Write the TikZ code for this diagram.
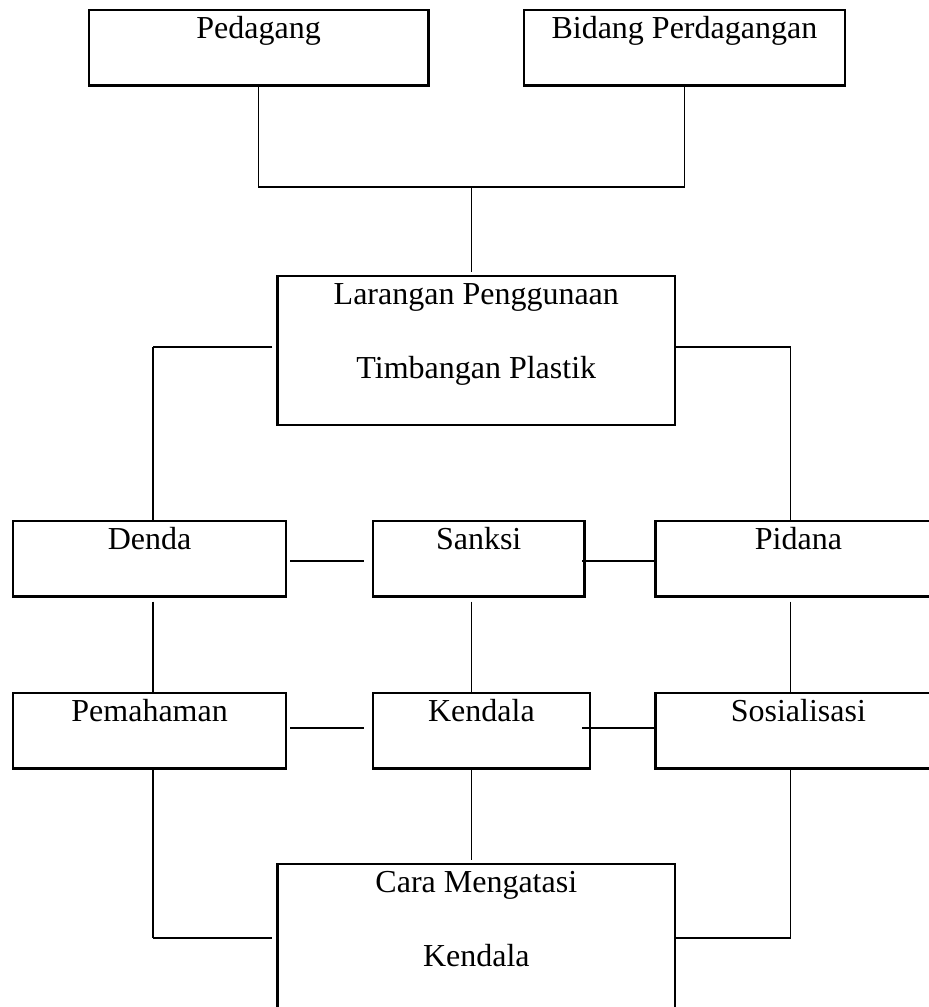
\documentclass[tikz,border=0pt]{standalone}
\usepackage{fontspec}
\setmainfont{Liberation Serif}

\begin{document}
\begin{tikzpicture}[x=0.375pt, y=-0.375pt,
	box/.style={draw, line width=0.9pt, rectangle, anchor=north west, inner sep=0pt, minimum height=28.2pt},
	boxtext/.style={anchor=base, inner sep=0pt, yshift=-10.9pt, font=\fontsize{12pt}{14pt}\selectfont},
	boxtextb/.style={boxtext, yshift=-27.75pt},
	link/.style={line width=0.6pt},
	hlink/.style={line width=0.8pt}]
	\useasboundingbox (0,0) rectangle (928,1007);

	\node[box, minimum width=127.35pt, label={[boxtext]north:Pedagang}] (pedagang) at (87.6,9) {};
	\node[box, minimum width=120.5pt, label={[boxtext]north:Bidang Perdagangan}] (bidang) at (522.5,9) {};
	\node[box, minimum width=149.1pt, minimum height=55.9pt, label={[boxtext]north:Larangan Penggunaan}, label={[boxtextb]north:Timbangan Plastik}] (larangan) at (276.3,275) {};
	\node[box, minimum width=102.45pt, label={[boxtext]north:Denda}] (denda) at (11.8,520) {};
	\node[box, minimum width=79.4pt, label={[boxtext]north:Sanksi}] (sanksi) at (371.6,520) {};
	\node[box, minimum width=107.1pt, label={[boxtext]north:Pidana}] (pidana) at (654.4,520) {};
	\node[box, minimum width=102.45pt, label={[boxtext]north:Pemahaman}] (pemahaman) at (11.8,692) {};
	\node[box, minimum width=81.45pt, label={[boxtext]north:Kendala}] (kendala) at (371.6,692) {};
	\node[box, minimum width=107.1pt, label={[boxtext]north:Sosialisasi}] (sosialisasi) at (654.4,692) {};
	\node[box, minimum width=149.1pt, minimum height=62.6pt, label={[boxtext]north:Cara Mengatasi}, label={[boxtextb]north:Kendala}] (cara) at (276.3,863) {};

	\coordinate (jtop) at (471.6,187);
	\coordinate (jleft) at (152.7,347);
	\coordinate (jright) at (790.5,347);
	\coordinate (r1) at (0,561);
	\coordinate (r2) at (0,728.3);
	\coordinate (jbl) at (152.7,937.7);
	\coordinate (jbr) at (790.5,937.7);

	\draw[link] (pedagang.south) -- (pedagang.south |- jtop) -- (bidang.south |- jtop) -- (bidang.south);
	\draw[link] (jtop) -- ([yshift=1.1pt]jtop |- larangan.north);
	\draw[hlink] ([xshift=-1.5pt]larangan.west |- jleft) -- (jleft);
	\draw[link] (jleft) -- (jleft |- denda.north);
	\draw[hlink] ([xshift=-0.7pt]larangan.east |- jright) -- (jright);
	\draw[link] (jright) -- (jright |- pidana.north);

	\draw[hlink] ([xshift=1.1pt]denda.east |- r1) -- ([xshift=-2.7pt]sanksi.west |- r1);
	\draw[hlink] ([xshift=-1.3pt]sanksi.east |- r1) -- ([xshift=0.45pt]pidana.west |- r1);
	\draw[link] ([yshift=-1.5pt]jleft |- denda.south) -- (jleft |- pemahaman.north);
	\draw[link] ([yshift=-1.5pt]jtop |- sanksi.south) -- (jtop |- kendala.north);
	\draw[link] ([yshift=-1.5pt]jright |- pidana.south) -- (jright |- sosialisasi.north);

	\draw[hlink] ([xshift=1.1pt]pemahaman.east |- r2) -- ([xshift=-2.7pt]kendala.west |- r2);
	\draw[hlink] ([xshift=-3.3pt]kendala.east |- r2) -- ([xshift=0.45pt]sosialisasi.west |- r2);
	\draw[link] (jleft |- pemahaman.south) -- (jbl);
	\draw[hlink] (jbl) -- ([xshift=-1.5pt]cara.west |- jbl);
	\draw[link] (jright |- sosialisasi.south) -- (jbr);
	\draw[hlink] (jbr) -- ([xshift=-0.8pt]cara.east |- jbr);
	\draw[link] (jtop |- kendala.south) -- ([yshift=1.1pt]jtop |- cara.north);
\end{tikzpicture}
\end{document}
